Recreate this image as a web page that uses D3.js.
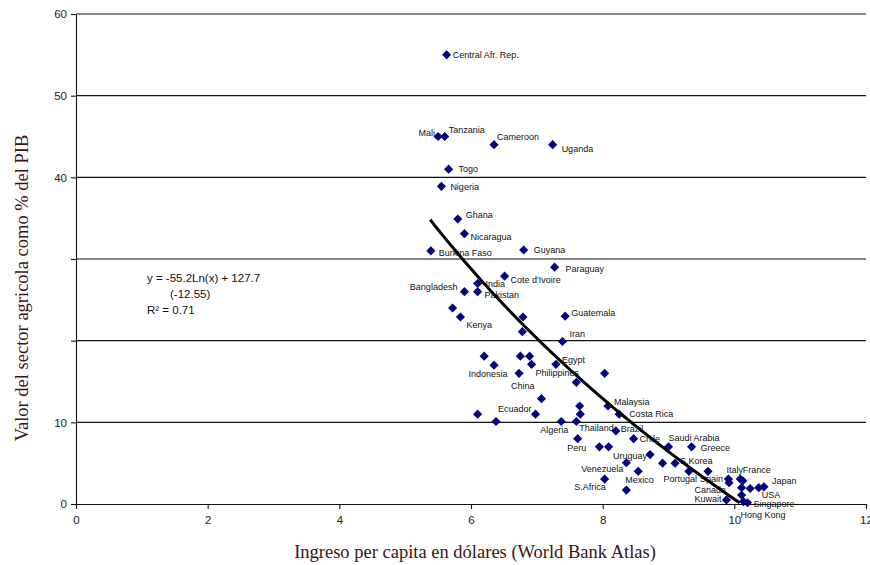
<!DOCTYPE html>
<html>
<head>
<meta charset="utf-8">
<script src="https://cdn.jsdelivr.net/npm/d3@7"></script>
<style>
  html, body { margin: 0; padding: 0; background: #fff; }
  svg { display: block; }
</style>
</head>
<body>
<svg id="chart" width="870" height="565"></svg>
<script>
// countries, x = ingreso (log), y = % agricola del PIB
const countries = ["Central Afr. Rep.","Mali","Tanzania","Cameroon","Uganda","Togo","Nigeria",
  "Ghana","Nicaragua","Burkina Faso","Guyana","Paraguay","Cote d'Ivoire","India","Pakistan",
  "Bangladesh","","Kenya","","Guatemala","","Iran","","","","Indonesia","Philippines","Egypt",
  "China","","","","","Malaysia","","Ecuador","","Costa Rica","","Algeria","Thailand","Brazil",
  "Peru","Chile","","","Saudi Arabia","Greece","Uruguay","Venezuela","","S.Korea","","Portugal",
  "Spain","S.Africa","Mexico","Italy","France","","Canada","","","USA","Japan","","Kuwait",
  "Hong Kong","Singapore"];
const incomes = [5.63,5.50,5.60,6.35,7.24,5.66,5.55,
  5.80,5.90,5.39,6.80,7.27,6.51,6.10,6.10,
  5.90,5.72,5.84,6.79,7.43,6.78,7.39,6.20,6.75,6.89,6.35,6.92,7.29,
  6.73,8.03,7.60,7.07,7.65,8.08,6.10,6.98,7.66,8.25,6.38,7.37,7.60,8.20,
  7.62,8.47,7.95,8.09,9.00,9.35,8.72,8.36,8.91,9.10,8.54,9.31,
  9.60,8.03,8.36,9.91,10.09,10.13,9.92,10.11,10.24,10.37,10.45,10.11,9.88,
  10.14,10.20];
const agShares = [55.0,45.0,45.0,44.0,44.0,41.0,38.9,
  34.9,33.1,31.0,31.1,29.0,27.9,27.0,26.0,
  26.0,24.0,22.9,22.9,23.0,21.1,19.9,18.1,18.1,18.1,17.0,17.1,17.1,
  16.0,16.0,14.9,12.9,12.0,12.0,11.0,11.0,11.0,11.0,10.1,10.1,10.1,8.95,
  8.0,8.0,7.0,7.0,7.0,7.0,6.05,5.05,5.0,5.0,4.0,4.0,
  4.0,3.05,1.7,3.05,3.05,2.85,2.6,2.0,1.9,2.0,2.1,1.1,0.5,
  0.3,0.15];

// log trendline from the fit shown on the chart
const trendA = -55.2, trendB = 127.7;
const trendRange = [5.38, 10.1];
const eqLines = ["y = -55.2Ln(x) + 127.7", "(-12.55)", "R\u00b2 = 0.71"];

const xTicks = [0, 2, 4, 6, 8, 10, 12];
const yTicks = [0, 10, 20, 30, 40, 50, 60];
const yTickLabels = ["0", "10", "", "", "40", "50", "60"];

// label placement: [dx, dy, anchor]
const labelPos = {
  "Central Afr. Rep.": [6, 0, "start"], "Mali": [-3, -4, "end"], "Tanzania": [4, -7, "start"],
  "Cameroon": [3, -8, "start"], "Uganda": [9, 4, "start"], "Togo": [10, 0, "start"],
  "Nigeria": [9, 1, "start"], "Ghana": [8, -4, "start"], "Nicaragua": [6, 3, "start"],
  "Burkina Faso": [8, 2, "start"], "Guyana": [10, 0, "start"], "Paraguay": [11, 2, "start"],
  "Cote d'Ivoire": [6, 4, "start"], "India": [8, 0, "start"], "Pakistan": [7, 3, "start"],
  "Bangladesh": [-7, -5, "end"], "Kenya": [6, 8, "start"], "Guatemala": [6, -3, "start"],
  "Iran": [7, -8, "start"], "Indonesia": [-6, 9, "middle"], "Philippines": [4, 8, "start"],
  "Egypt": [6, -5, "start"], "China": [-8, 13, "start"], "Malaysia": [6, -4, "start"],
  "Costa Rica": [10, 0, "start"], "Ecuador": [-4, -5, "end"], "Algeria": [-7, 8, "middle"],
  "Thailand": [3, 6, "start"], "Brazil": [5, -2, "start"], "Peru": [-1, 9, "middle"],
  "Chile": [6, 0, "start"], "Saudi Arabia": [0, -9, "start"], "Greece": [9, 1, "start"],
  "Uruguay": [-3, 1, "end"], "Venezuela": [-3, 6, "end"], "S.Korea": [5, -2, "start"],
  "Portugal": [8, 8, "end"], "Spain": [-8, 8, "start"], "S.Africa": [1, 8, "end"],
  "Mexico": [-1, -10, "start"], "Italy": [-2, -9, "start"], "France": [2.5, -9, "start"],
  "Japan": [8, -6, "start"], "USA": [3, 7, "start"], "Canada": [-3, 7, "end"],
  "Kuwait": [-5, -1, "end"], "Singapore": [6, 1, "start"], "Hong Kong": [-3, 13, "start"]
};

const svg = d3.select("#chart");
const x = d3.scaleLinear().domain([0, 12]).range([76, 866]);
const y = d3.scaleLinear().domain([0, 60]).range([504, 14]);

const points = countries.map((c, i) => ({ name: c, inc: incomes[i], ag: agShares[i] }));

// gridlines
svg.append("g")
  .selectAll("line")
  .data(yTicks.filter(d => d > 0))
  .enter().append("line")
  .attr("x1", x(0)).attr("x2", x(12))
  .attr("y1", d => y(d)).attr("y2", d => y(d))
  .attr("stroke", "#111").attr("stroke-width", 1.1);

// axes
const xAxis = svg.append("g")
  .attr("transform", "translate(0," + y(0) + ")")
  .call(d3.axisBottom(x).tickValues(xTicks).tickSize(5).tickSizeOuter(0).tickFormat(d3.format("d")));
const yAxis = svg.append("g")
  .attr("transform", "translate(" + x(0) + ",0)")
  .call(d3.axisLeft(y).tickValues(yTicks).tickSize(5).tickSizeOuter(0)
    .tickFormat((d, i) => yTickLabels[i]));

[xAxis, yAxis].forEach(a => {
  a.selectAll("path, line").attr("stroke", "#111").attr("stroke-width", 1.1);
  a.selectAll("text")
    .attr("font-family", "Liberation Sans, Arial, sans-serif")
    .attr("font-size", "11.5px")
    .attr("fill", "#222");
});
xAxis.selectAll("text").attr("dy", "1.05em");
yAxis.selectAll("text").attr("x", -9);

// markers
svg.append("g")
  .selectAll("path")
  .data(points)
  .enter().append("path")
  .attr("d", d3.symbol().type(d3.symbolSquare).size(42))
  .attr("transform", d => "translate(" + x(d.inc) + "," + y(d.ag) + ") rotate(45)")
  .attr("fill", "#000080");

// country labels
svg.append("g")
  .selectAll("text")
  .data(points.filter(d => d.name !== ""))
  .enter().append("text")
  .attr("x", d => x(d.inc) + labelPos[d.name][0])
  .attr("y", d => y(d.ag) + labelPos[d.name][1])
  .attr("dy", "0.35em")
  .attr("text-anchor", d => labelPos[d.name][2])
  .attr("font-family", "Liberation Sans, Arial, sans-serif")
  .attr("font-size", "9px")
  .attr("fill", "#111")
  .text(d => d.name);

// trendline
const trend = d3.range(trendRange[0], trendRange[1] + 0.001, 0.05)
  .map(v => [v, trendA * Math.log(v) + trendB]);
svg.append("path")
  .datum(trend)
  .attr("d", d3.line().x(d => x(d[0])).y(d => y(d[1])))
  .attr("fill", "none")
  .attr("stroke", "#000")
  .attr("stroke-width", 3);

// equation
const eqX = [147, 170, 147];
const eqY = [282, 298, 314];
svg.append("g")
  .selectAll("text")
  .data(eqLines)
  .enter().append("text")
  .attr("x", (d, i) => eqX[i])
  .attr("y", (d, i) => eqY[i])
  .attr("font-family", "Liberation Sans, Arial, sans-serif")
  .attr("font-size", "11.5px")
  .attr("fill", "#111")
  .text(d => d);

// axis titles
svg.append("text")
  .attr("x", 475).attr("y", 558)
  .attr("text-anchor", "middle")
  .attr("font-family", "Liberation Serif, Times New Roman, serif")
  .attr("font-size", "18.5px")
  .attr("fill", "#3a1414")
  .text("Ingreso per capita en d\u00f3lares (World Bank Atlas)");

svg.append("text")
  .attr("transform", "translate(28,288) rotate(-90)")
  .attr("text-anchor", "middle")
  .attr("font-family", "Liberation Serif, Times New Roman, serif")
  .attr("font-size", "18.5px")
  .attr("fill", "#3a1414")
  .text("Valor del sector agricola como % del PIB");
</script>
</body>
</html>
